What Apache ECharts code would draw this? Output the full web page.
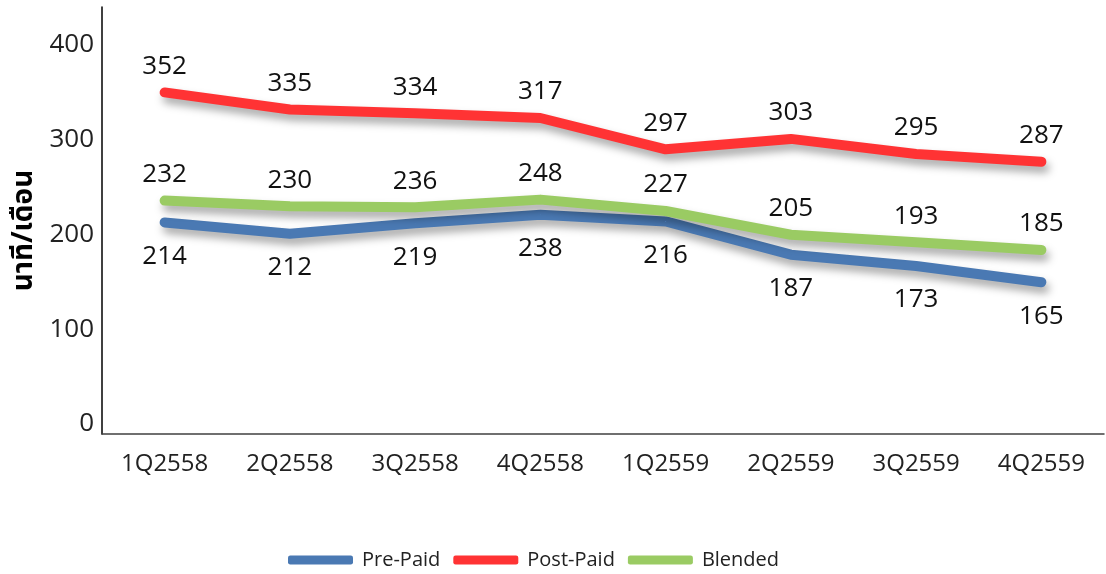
<!DOCTYPE html>
<html>
<head>
<meta charset="utf-8">
<script src="https://cdn.jsdelivr.net/npm/echarts@6/dist/echarts.min.js"></script>
<style>
html,body{margin:0;padding:0;background:#fff;}
#chart{width:1106px;height:574px;}
</style>
</head>
<body>
<div id="chart"></div>
<script>
const categories = ['1Q2558','2Q2558','3Q2558','4Q2558','1Q2559','2Q2559','3Q2559','4Q2559'];
// plotted line values (as drawn)
const prePaid  = [223, 211, 222, 231, 224, 189, 177, 160];
const postPaid = [360, 342, 338, 333, 300, 311, 295, 287];
const blended  = [246, 240, 239, 247, 235, 210, 202, 194];
// data label texts (as printed)
const prePaidLabels  = [214, 212, 219, 238, 216, 187, 173, 165];
const postPaidLabels = [352, 335, 334, 317, 297, 303, 295, 287];
const blendedLabels  = [232, 230, 236, 248, 227, 205, 193, 185];
const yTicks = [0, 100, 200, 300, 400];

const FONT = '"Open Sans", "Noto Sans", "Noto Sans Thai", "DejaVu Sans", sans-serif';
const shadow = {shadowColor:'rgba(0,0,0,0.35)', shadowBlur:8, shadowOffsetX:3, shadowOffsetY:6};

function mk(name, data, labels, color, offY) {
  return {
    name: name, type: 'line', data: data,
    symbol: 'circle', symbolSize: 1, showSymbol: true,
    itemStyle: {color: color},
    lineStyle: Object.assign({width: 10, color: color, cap: 'round', join: 'round'}, shadow),
    label: {
      show: true, position: 'inside', offset: [0, offY],
      fontFamily: FONT, fontSize: 26, fontWeight: 'normal', color: '#111',
      formatter: p => String(labels[p.dataIndex])
    },
    emphasis: {disabled: true},
    animation: false
  };
}

const chart = echarts.init(document.getElementById('chart'));
chart.setOption({
  animation: false,
  backgroundColor: '#fff',
  grid: {left: 102, right: 2, top: 7, bottom: 140, containLabel: false, outerBoundsMode: 'none'},
  legend: {
    left: 283, top: 545,
    icon: 'roundRect', itemWidth: 65, itemHeight: 9, itemGap: 13,
    textStyle: {fontFamily: FONT, fontSize: 20, fontWeight: 'normal', color: '#222', padding: [0,0,0,4]},
    data: ['Pre-Paid', 'Post-Paid', 'Blended']
  },
  xAxis: {
    type: 'category', data: categories, boundaryGap: true,
    axisLine: {lineStyle: {color: '#404040', width: 1.5}},
    axisTick: {show: false},
    axisLabel: {fontFamily: FONT, fontSize: 24, fontWeight: 'normal', color: '#222', margin: 18}
  },
  yAxis: {
    type: 'value', min: 0, max: 450, interval: 100,
    name: 'นาที/เดือน', nameLocation: 'middle', nameRotate: 90, nameGap: 62,
    nameTextStyle: {fontFamily: FONT, fontSize: 28, fontWeight: 'bold', color: '#000', padding: [0,20,0,0]},
    axisLine: {show: true, lineStyle: {color: '#000', width: 1.5}},
    axisTick: {show: false},
    splitLine: {show: false},
    axisLabel: {
      fontFamily: FONT, fontSize: 26, fontWeight: 'normal', color: '#222', margin: 8,
      verticalAlign: 'bottom', lineHeight: 20,
      formatter: v => (yTicks.indexOf(v) >= 0 ? String(v) : '')
    }
  },
  series: [
    mk('Pre-Paid', prePaid, prePaidLabels, '#4a79b3', 34),
    mk('Post-Paid', postPaid, postPaidLabels, '#ff3334', -26),
    mk('Blended', blended, blendedLabels, '#9acb63', -26)
  ]
});
</script>
</body>
</html>
